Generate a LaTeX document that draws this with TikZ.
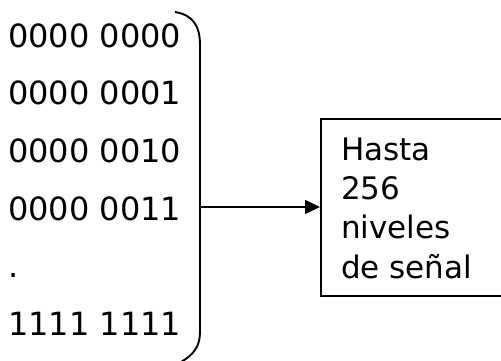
\documentclass[tikz,border=0pt]{standalone}
\usepackage{fontspec}
\setmainfont{DejaVu Sans}
\usetikzlibrary{arrows.meta}
\tikzset{
  code/.style={anchor=base west, inner sep=0pt, font=\fontsize{32}{38}\selectfont},
  boxtext/.style={anchor=base west, inner sep=0pt, font=\fontsize{31}{37}\selectfont},
  brace/.style={line width=1.9pt},
  levelbox/.style={draw, line width=1.6pt, anchor=north west, inner sep=0pt,
                   minimum width=190pt, minimum height=177pt},
  link/.style={line width=1.6pt, -{Triangle[length=15pt,width=14pt]}}
}
\begin{document}
\begin{tikzpicture}[x=1pt,y=-1pt]
  \useasboundingbox (0,0) rectangle (501,360);

  % binary codes
  \node[code] (c1) at (8,47)    {0000 0000};
  \node[code] (c2) at (8,104.7) {0000 0001};
  \node[code] (c3) at (8,162.4) {0000 0010};
  \node[code] (c4) at (8,220.1) {0000 0011};
  \node[code] (c5) at (8,277.8) {.};
  \node[code] (c6) at (8,335.5) {1111 1111};

  % closing bracket around the codes
  \draw[brace] (175,12) .. controls (193,15) and (200,26) .. (200,45)
               -- (200,332) .. controls (200,347) and (193,355) .. (181,362);

  % result box, running off the right edge
  \node[levelbox] (box) at (320,118) {};
  \node[boxtext] (t1) at (341,160) {Hasta};
  \node[boxtext] (t2) at (341,199) {256};
  \node[boxtext] (t3) at (341,238.5) {niveles};
  \node[boxtext] (t4) at (341,278) {de señal};

  % connector
  \coordinate (tap) at (200,207);
  \draw[link] (tap) -- (box.west |- tap);
\end{tikzpicture}
\end{document}
